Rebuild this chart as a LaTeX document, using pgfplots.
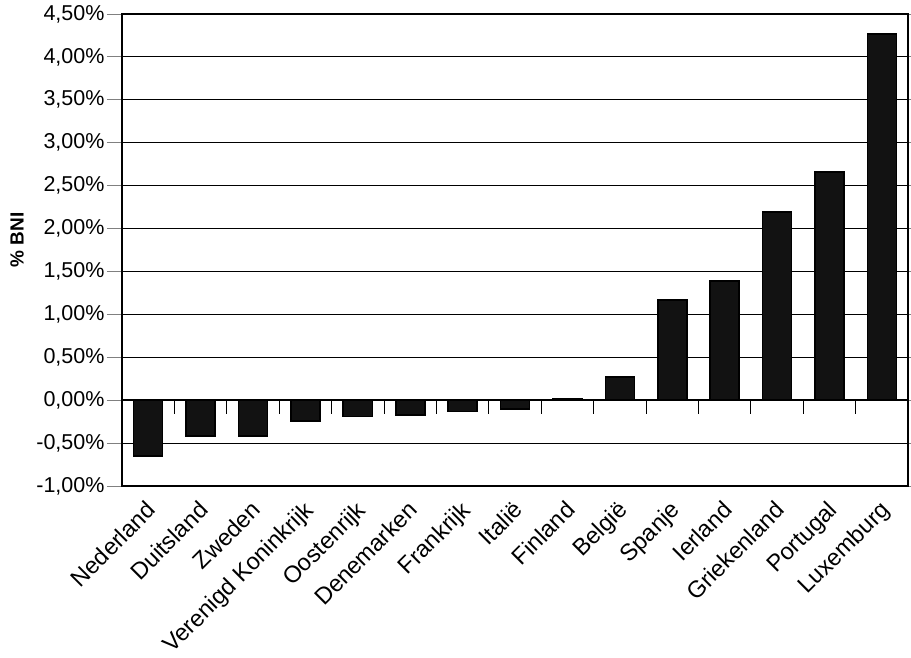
\documentclass[border=0pt]{standalone}
\usepackage{pgfplots}
\pgfplotsset{compat=1.18}
\usepackage{fontspec}
\setmainfont{Liberation Sans}
\begin{document}
\begin{tikzpicture}
\useasboundingbox (-122pt,-172pt) rectangle (789pt,486pt);
\begin{axis}[
  at={(0pt,0pt)}, anchor=south west,
  scale only axis,
  width=786pt, height=472pt,
  xmin=-0.5, xmax=14.5,
  ymin=-1, ymax=4.5,
  axis line style={line width=2.4pt},
  tick align=outside,
  xtick={0,1,...,14},
  xticklabels={Nederland,Duitsland,Zweden,Verenigd Koninkrijk,Oostenrijk,Denemarken,Frankrijk,Italië,Finland,België,Spanje,Ierland,Griekenland,Portugal,Luxemburg},
  xtick style={draw=none},
  x tick label style={xshift=-3pt, yshift=3pt, rotate=45, anchor=north east, font=\fontsize{23.5}{26}\selectfont, inner sep=1pt},
  ytick={-1,-0.5,0,0.5,1,1.5,2,2.5,3,3.5,4,4.5},
  major tick length=15pt,
  ytick style={line width=0.9pt},
  y tick label style={font=\fontsize{21.5}{24}\selectfont, xshift=1pt},
  /pgf/number format/assume math mode=true,
  yticklabel={\pgfmathprintnumber[fixed,fixed zerofill,precision=2,use comma]{\tick}\%},
  ymajorgrids,
  major grid style={black, line width=0.9pt},
  ylabel={\bfseries\% BNI},
  ylabel style={font=\fontsize{19}{22}\selectfont, at={(axis description cs:-0.1336,0.521)}, anchor=center},
]
\addplot[ybar, bar width=29pt, fill=black!93, draw=black, line width=1.6pt]
coordinates {
(0,-0.65) (1,-0.42) (2,-0.42) (3,-0.24) (4,-0.19) (5,-0.17) (6,-0.13) (7,-0.10)
(8,0.02) (9,0.27) (10,1.17) (11,1.39) (12,2.19) (13,2.66) (14,4.27)
};
\draw[line width=2pt] (axis cs:-0.5,0) -- (axis cs:14.5,0);
\pgfplotsinvokeforeach{0.5,1.5,...,13.5}{
  \draw[line width=0.9pt] (axis cs:#1,0) -- ([yshift=-14pt]axis cs:#1,0);
}
\end{axis}
\end{tikzpicture}
\end{document}
